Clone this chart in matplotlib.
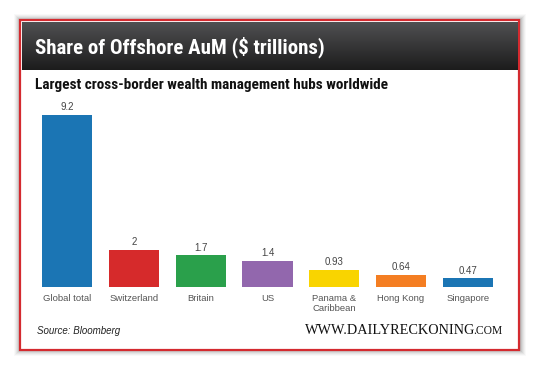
import matplotlib
matplotlib.use("Agg")
import matplotlib.pyplot as plt
import numpy as np
from matplotlib.patches import Rectangle
from matplotlib import font_manager

categories = ["Global total", "Switzerland", "Britain", "US", "Panama &\nCaribbean", "Hong Kong", "Singapore"]
values = [9.2, 2, 1.7, 1.4, 0.93, 0.64, 0.47]
value_labels = ["9.2", "2", "1.7", "1.4", "0.93", "0.64", "0.47"]
colors = ["#1b75b4", "#d62a2b", "#2aa04b", "#9267ad", "#f9d400", "#f47e22", "#1b75b4"]

title = "Share of Offshore AuM ($ trillions)"
subtitle = "Largest cross-border wealth management hubs worldwide"
source = "Source: Bloomberg"

W, H = 540, 367
fig = plt.figure(figsize=(W / 100, H / 100), dpi=100)
fig.patch.set_facecolor("white")


def fx(px):
    return px / W


def fy(py):
    return 1 - py / H


fl = font_manager.fontManager.ttflist
def has_bold(name):
    return any(f.name == name and (f.weight in ("bold", 700) or (isinstance(f.weight, int) and f.weight >= 600)) for f in fl)

narrow = "Liberation Sans"
for c in ["Roboto Condensed", "Liberation Sans Narrow", "Arial Narrow", "PT Sans Narrow",
          "Archivo Narrow", "Asap Condensed", "Barlow Semi Condensed"]:
    if has_bold(c):
        narrow = c
        break
sans = "Liberation Sans"

# shadow
for i, a in enumerate([0.025, 0.035, 0.045, 0.055, 0.07, 0.08]):
    d = 6 - i
    fig.patches.append(Rectangle((fx(20 - d), fy(350 + d)), fx(500 + 2 * d), (330 + 2 * d) / H,
                                 transform=fig.transFigure, facecolor="black", alpha=a,
                                 edgecolor="none", zorder=0))
# frame
fig.patches.append(Rectangle((fx(20), fy(350)), fx(499), 330 / H, transform=fig.transFigure,
                             facecolor="white", edgecolor="#d42a2f", linewidth=1.6, zorder=1))

# header gradient
hax = fig.add_axes([fx(21.5), fy(70), fx(496), 48 / H])
grad = np.linspace(0, 1, 100).reshape(-1, 1)
cmap = matplotlib.colors.LinearSegmentedColormap.from_list("g", ["#505052", "#1c1c1c"])
hax.imshow(grad, aspect="auto", cmap=cmap, extent=[0, 1, 0, 1], origin="upper")
hax.axis("off")
hax.set_zorder(2)

t_title = fig.text(fx(35), fy(47), title, color="white", fontsize=16, fontweight="bold",
                   family=narrow, va="center", ha="left", zorder=5)
t_sub = fig.text(fx(35), fy(85), subtitle, color="#111111", fontsize=11, fontweight="bold",
                 family=narrow, va="center", ha="left", zorder=5)

# bars
ax = fig.add_axes([fx(34), fy(287), fx(467), 177 / H])
ax.set_zorder(3)
ax.patch.set_alpha(0)
x = np.arange(len(values))
ax.bar(x, values, width=0.75, color=colors, zorder=3)
ax.set_xlim(-0.5, len(values) - 0.5)
ax.set_ylim(0, 177 / 18.7)
for xi, v, lab in zip(x, values, value_labels):
    ax.text(xi, v + 0.14, lab, ha="center", va="bottom", fontsize=7, color="#444444", family=sans)
ax.set_xticks(x)
ax.set_xticklabels(categories, fontsize=6.8, color="#555555", family=sans, linespacing=1.1, va="top")
ax.tick_params(axis="x", length=0, pad=5)
ax.set_yticks([])
for s in ax.spines.values():
    s.set_visible(False)

fig.text(fx(37), fy(331), source, fontsize=7, style="italic", color="#222222", family=sans,
         va="center", ha="left", zorder=5)
t1 = fig.text(fx(305), fy(334), "WWW.DAILYRECKONING", fontsize=10.3, color="#111111",
              family="Liberation Serif", va="baseline", ha="left", zorder=5)

# fit header texts to reference widths
fig.canvas.draw()
r = fig.canvas.get_renderer()
for t, target in [(t_title, 290), (t_sub, 353)]:
    w = t.get_window_extent(r).width
    t.set_fontsize(t.get_fontsize() * target / w)
bb = t1.get_window_extent(r)
fig.text((bb.x1 - 2) / W, fy(334), ".COM", fontsize=8.3, color="#111111",
         family="Liberation Serif", va="baseline", ha="left", zorder=5)

fig.savefig("out.png", dpi=100, facecolor="white")
